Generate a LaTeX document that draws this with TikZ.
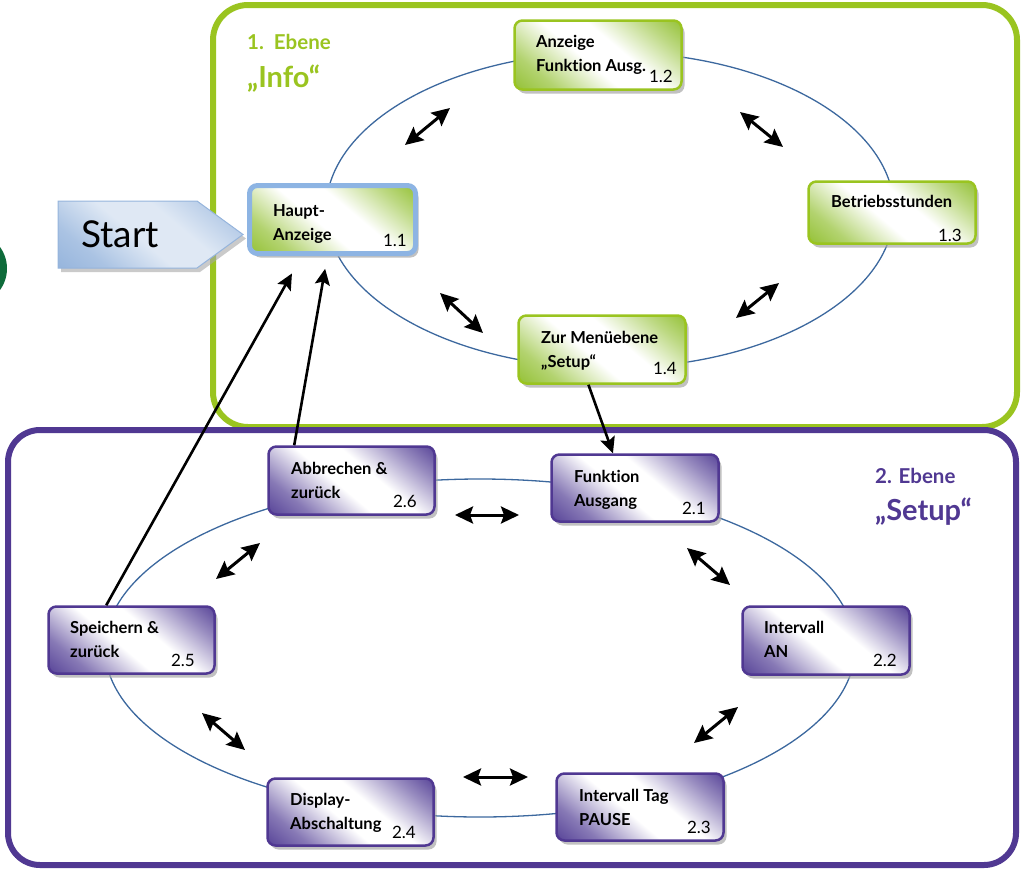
\documentclass[tikz,border=0pt]{standalone}
\usepackage{fontspec}
\setmainfont{Lato}[Ligatures=NoCommon]
\usetikzlibrary{arrows.meta,shadows,calc}

\definecolor{ebeneA}{RGB}{154,196,32}
\definecolor{ebeneB}{RGB}{80,56,146}
\definecolor{fillA}{RGB}{146,192,50}
\definecolor{fillB}{RGB}{84,64,150}
\definecolor{ringblau}{RGB}{60,104,158}
\definecolor{startblau}{RGB}{149,180,220}
\definecolor{hauptblau}{RGB}{141,180,227}
\definecolor{kreisgruen}{RGB}{14,107,58}

% corner shadings, white band in the middle
\pgfdeclareverticalshading{eckA}{100bp}{color(0bp)=(fillA); color(14bp)=(fillA); color(27bp)=(fillA!70); color(45bp)=(white); color(58bp)=(white); color(74bp)=(fillA!60); color(86bp)=(fillA); color(100bp)=(fillA)}
\pgfdeclareverticalshading{eckB}{100bp}{color(0bp)=(fillB); color(14bp)=(fillB); color(27bp)=(fillB!70); color(45bp)=(white); color(58bp)=(white); color(74bp)=(fillB!60); color(86bp)=(fillB); color(100bp)=(fillB)}
\pgfdeclareverticalshading{eckS}{100bp}{color(0bp)=(startblau); color(14bp)=(startblau); color(28bp)=(startblau!80); color(46bp)=(startblau!30); color(60bp)=(startblau!30); color(76bp)=(startblau!70); color(86bp)=(startblau); color(100bp)=(startblau)}

\begin{document}
\begin{tikzpicture}[x=1pt,y=-1pt,
  box/.style={rectangle, rounded corners=8pt, line width=2.5pt,
    minimum width=167pt, minimum height=67pt,
    drop shadow={shadow xshift=3pt, shadow yshift=-4pt, fill=black!35, opacity=.7}},
  einsbox/.style={box, draw=ebeneA, shading=eckA, shading angle=-40},
  zweibox/.style={box, draw=ebeneB, shading=eckB, shading angle=-40},
  txt/.style={anchor=base west, inner sep=0pt, align=left, font=\bfseries\fontsize{16.5}{24}\selectfont},
  num/.style={anchor=base east, inner sep=0pt, font=\fontsize{17}{20}\selectfont},
  ring/.style={ringblau, line width=1.3pt},
  pfeil/.style={-{Stealth[length=16pt,width=15pt,inset=3pt]}, line width=2.6pt},
  dpfeil/.style={{Stealth[length=18pt,width=17pt,inset=3pt]}-{Stealth[length=18pt,width=17pt,inset=3pt]}, line width=3pt}]
\useasboundingbox (0,0) rectangle (1028,868);

% frames
\fill[kreisgruen] (-29.5,268.5) circle (36.5pt);
\draw[ebeneA, line width=6pt, rounded corners=35pt] (213,5) rectangle (1017,427);
\draw[ebeneB, line width=6pt, rounded corners=32pt] (8,430) rectangle (1016,865);

% rings
\draw[ring] (610,210) ellipse [x radius=284pt, y radius=158pt];
\draw[ring] (480,648) ellipse [x radius=375pt, y radius=169pt];

% Start
\path[draw=startblau, line width=1pt, shading=eckS, shading angle=-40,
  drop shadow={shadow xshift=3pt, shadow yshift=-4pt, fill=black!35, opacity=.6}]
  (58,201) -- (197,201) -- (243,234.5) -- (197,268) -- (58,268) -- cycle;
\node[anchor=base west, inner sep=0pt, font=\fontsize{37}{40}\selectfont] (start) at (81,247) {Start};

% 1. Ebene
\node[einsbox, draw=hauptblau, line width=5pt, minimum width=166pt, minimum height=68pt] (b11) at (332.5,219.5) {};
\node[einsbox, minimum height=69pt] (b12) at (598,55) {};
\node[einsbox, minimum height=62pt] (b13) at (892,212.5) {};
\node[einsbox, minimum height=68pt] (b14) at (602,349.5) {};

% 2. Ebene
\node[zweibox] (b21) at (635,488) {};
\node[zweibox, minimum height=68pt] (b22) at (826,640.5) {};
\node[zweibox] (b23) at (640,807) {};
\node[zweibox, minimum width=166pt] (b24) at (350.5,812) {};
\node[zweibox, minimum width=166pt] (b25) at (131.5,640) {};
\node[zweibox, minimum width=166pt, minimum height=68pt] (b26) at (351.5,480.5) {};

% texts (base = last line)
\node[txt] (t11) at (273,240) {Haupt-\\Anzeige};
\node[txt] (t12) at (536,71) {Anzeige\\Funktion Ausg.};
\node[txt] (t13) at (831,207) {Betriebsstunden};
\node[txt] (t14) at (541,367) {Zur Menüebene\\„Setup“};
\node[txt] (t21) at (574,506) {Funktion\\Ausgang};
\node[txt] (t22) at (764,657) {Intervall\\AN};
\node[txt] (t23) at (579,825) {Intervall Tag\\PAUSE};
\node[txt] (t24) at (290,829) {Display-\\Abschaltung};
\node[txt] (t25) at (70,657) {Speichern \&\\zurück};
\node[txt] (t26) at (291,498) {Abbrechen \&\\zurück};

\node[num] (n11) at (407,246) {1.1};
\node[num] (n12) at (673,82) {1.2};
\node[num] (n13) at (962,241) {1.3};
\node[num] (n14) at (677,374) {1.4};
\node[num] (n21) at (706,514) {2.1};
\node[num] (n22) at (897,666) {2.2};
\node[num] (n23) at (711,833) {2.3};
\node[num] (n24) at (416,838) {2.4};
\node[num] (n25) at (195,666) {2.5};
\node[num] (n26) at (417,507) {2.6};

% titles
\node[anchor=base west, inner sep=0pt, ebeneA, font=\bfseries\fontsize{20.5}{24}\selectfont] (e1) at (247,49) {1.\ \ Ebene};
\node[anchor=base west, inner sep=0pt, ebeneA, font=\bfseries\fontsize{29}{32}\selectfont] (e1name) at (247,87) {„Info“};
\node[anchor=base west, inner sep=0pt, ebeneB, font=\bfseries\fontsize{20.5}{24}\selectfont] (e2) at (875,483) {2. Ebene};
\node[anchor=base west, inner sep=0pt, ebeneB, font=\bfseries\fontsize{29}{32}\selectfont] (e2name) at (875,520) {„Setup“};

% connectors
\draw[pfeil] ($(b14.south west)!.42!(b14.south east)$) -- ($(b21.north west)!.37!(b21.north east)$);
\draw[pfeil, shorten >=13pt] ($(b26.north west)!.16!(b26.north east)$) -- ($(b11.south west)!.47!(b11.south east)$);
\draw[pfeil, shorten >=20pt] ($(b25.north west)!.35!(b25.north east)$) -- ($(b11.south west)!.32!(b11.south east)$);

% ring arrows
\foreach \xa/\ya/\xb/\yb in {405/145/450/108, 740/112/783/147, 779/283/736/318, 440/293/483/333,
  455/515/519/515, 687/548/730/585, 738/707/694/743, 463/777/528/777, 202/713/245/750, 216/579/260/543}
  \draw[dpfeil] (\xa,\ya) -- (\xb,\yb);
\end{tikzpicture}
\end{document}
